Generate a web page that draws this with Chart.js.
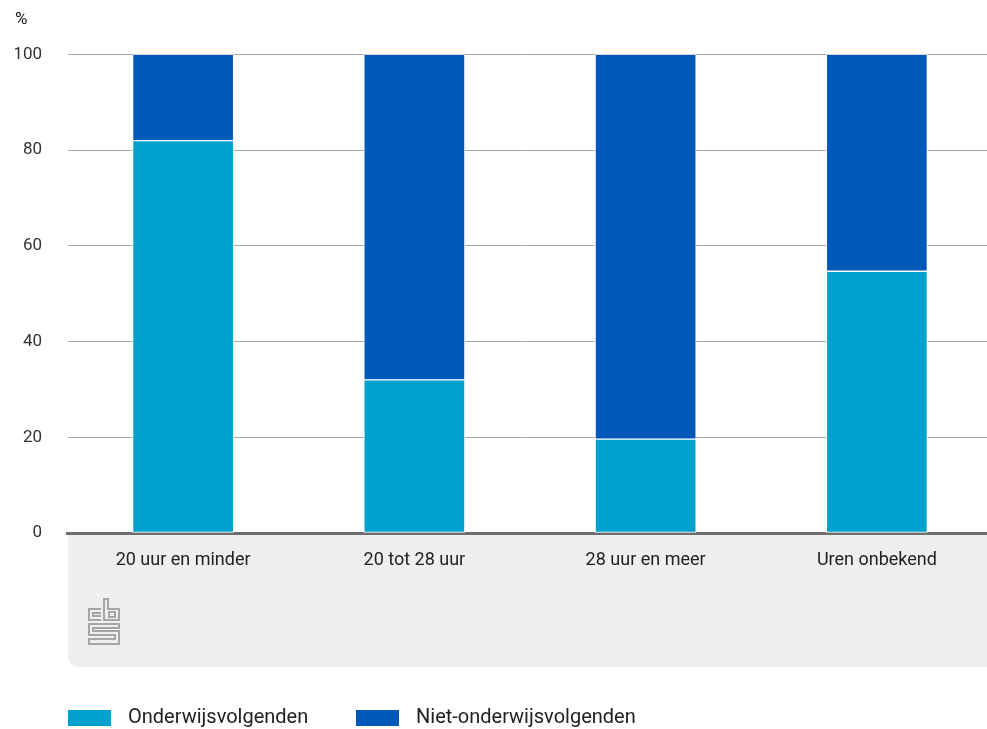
<!DOCTYPE html>
<html>
<head>
<meta charset="utf-8">
<script src="https://cdn.jsdelivr.net/npm/chart.js@4.4.1/dist/chart.umd.min.js"></script>
<style>
  html, body { margin: 0; padding: 0; background: #fff; }
  #wrap { width: 987px; height: 729px; }
</style>
</head>
<body>
<div id="wrap"><canvas id="chart" width="987" height="729"></canvas></div>
<script>
const categories = ['20 uur en minder', '20 tot 28 uur', '28 uur en meer', 'Uren onbekend'];
const onderwijs = [82, 32, 19.6, 54.7];
const nietOnderwijs = [18, 68, 80.4, 45.3];
const yTicks = [0, 20, 40, 60, 80, 100];

const FONT = 'Roboto, "Noto Sans", sans-serif';

// grey band under the x axis + cbs logo
const bandPlugin = {
  id: 'band',
  afterLayout(chart) {
    // categories run a bit past the right edge of the canvas in the original
    const xs = chart.scales.x;
    xs.left = 67.5;
    xs.right = 992.5;
    xs.width = xs.right - xs.left;
    xs.configure();
  },
  beforeDraw(chart) {
    const ctx = chart.ctx;
    const area = chart.chartArea;
    const xs = chart.scales.x;
    const left = area.left, top = area.bottom, right = chart.width, bottom = xs.bottom;
    const r = 12;
    ctx.save();
    ctx.fillStyle = '#efefef';
    ctx.beginPath();
    ctx.moveTo(left, top);
    ctx.lineTo(right, top);
    ctx.lineTo(right, bottom);
    ctx.lineTo(left + r, bottom);
    ctx.quadraticCurveTo(left, bottom, left, bottom - r);
    ctx.closePath();
    ctx.fill();

    // logo
    ctx.strokeStyle = '#a6a6a6';
    ctx.lineWidth = 2;
    ctx.beginPath();
    // c
    ctx.moveTo(101, 609); ctx.lineTo(89, 609); ctx.lineTo(89, 620); ctx.lineTo(101, 620);
    ctx.moveTo(101, 613); ctx.lineTo(93, 613); ctx.lineTo(93, 616); ctx.lineTo(101, 616);
    // b
    ctx.moveTo(104, 599); ctx.lineTo(104, 620); ctx.lineTo(119, 620); ctx.lineTo(119, 609); ctx.lineTo(108, 609); ctx.lineTo(108, 599); ctx.closePath();
    ctx.rect(109, 612, 6, 5);
    // s
    ctx.moveTo(119, 624); ctx.lineTo(89, 624); ctx.lineTo(89, 635); ctx.lineTo(115, 635); ctx.lineTo(115, 639); ctx.lineTo(89, 639); ctx.lineTo(89, 644); ctx.lineTo(119, 644); ctx.lineTo(119, 631); ctx.lineTo(93, 631); ctx.lineTo(93, 628); ctx.lineTo(119, 628); ctx.closePath();
    ctx.stroke();
    ctx.restore();
  }
};

// legend drawn from the datasets
const legendPlugin = {
  id: 'cbsLegend',
  afterDraw(chart) {
    const ctx = chart.ctx;
    const starts = [68, 356];
    ctx.save();
    ctx.font = '20px ' + FONT;
    ctx.textBaseline = 'middle';
    chart.data.datasets.forEach((ds, i) => {
      const x = starts[i];
      ctx.fillStyle = ds.backgroundColor;
      ctx.fillRect(x, 710, 43, 16);
      ctx.fillStyle = '#222';
      ctx.fillText(ds.label, x + 60, 718);
    });
    ctx.restore();
  }
};

new Chart(document.getElementById('chart'), {
  type: 'bar',
  data: {
    labels: categories,
    datasets: [
      {
        label: 'Onderwijsvolgenden',
        data: onderwijs,
        backgroundColor: '#00a1cd',
        borderColor: '#ffffff',
        borderWidth: 1,
        borderSkipped: false,
        barThickness: 101
      },
      {
        label: 'Niet-onderwijsvolgenden',
        data: nietOnderwijs,
        backgroundColor: '#0058b8',
        borderColor: '#ffffff',
        borderWidth: 1,
        borderSkipped: false,
        barThickness: 101
      }
    ]
  },
  options: {
    responsive: false,
    animation: false,
    layout: { padding: { left: 15, right: 0, top: 0, bottom: 62 } },
    plugins: {
      legend: { display: false },
      tooltip: { enabled: false },
      title: {
        display: true,
        text: '%',
        align: 'start',
        color: '#222',
        font: { family: FONT, size: 17, weight: 'normal' },
        padding: { top: 10, bottom: 24 }
      }
    },
    scales: {
      x: {
        stacked: true,
        grid: { display: false, drawTicks: false },
        border: { display: true, color: '#6e6e6e', width: 3 },
        ticks: { color: '#222', padding: 17, font: { family: FONT, size: 18 } },
        afterFit(scale) { scale.height = 134; }
      },
      y: {
        stacked: true,
        min: 0,
        max: 100,
        afterBuildTicks(scale) { scale.ticks = yTicks.map(v => ({ value: v })); },
        grid: { color: '#a8a8a8', lineWidth: 1, drawTicks: false },
        border: { display: false },
        ticks: { color: '#333', padding: 26, font: { family: FONT, size: 17 } },
        afterFit(scale) { scale.width = 53; }
      }
    }
  },
  plugins: [bandPlugin, legendPlugin]
});
</script>
</body>
</html>
